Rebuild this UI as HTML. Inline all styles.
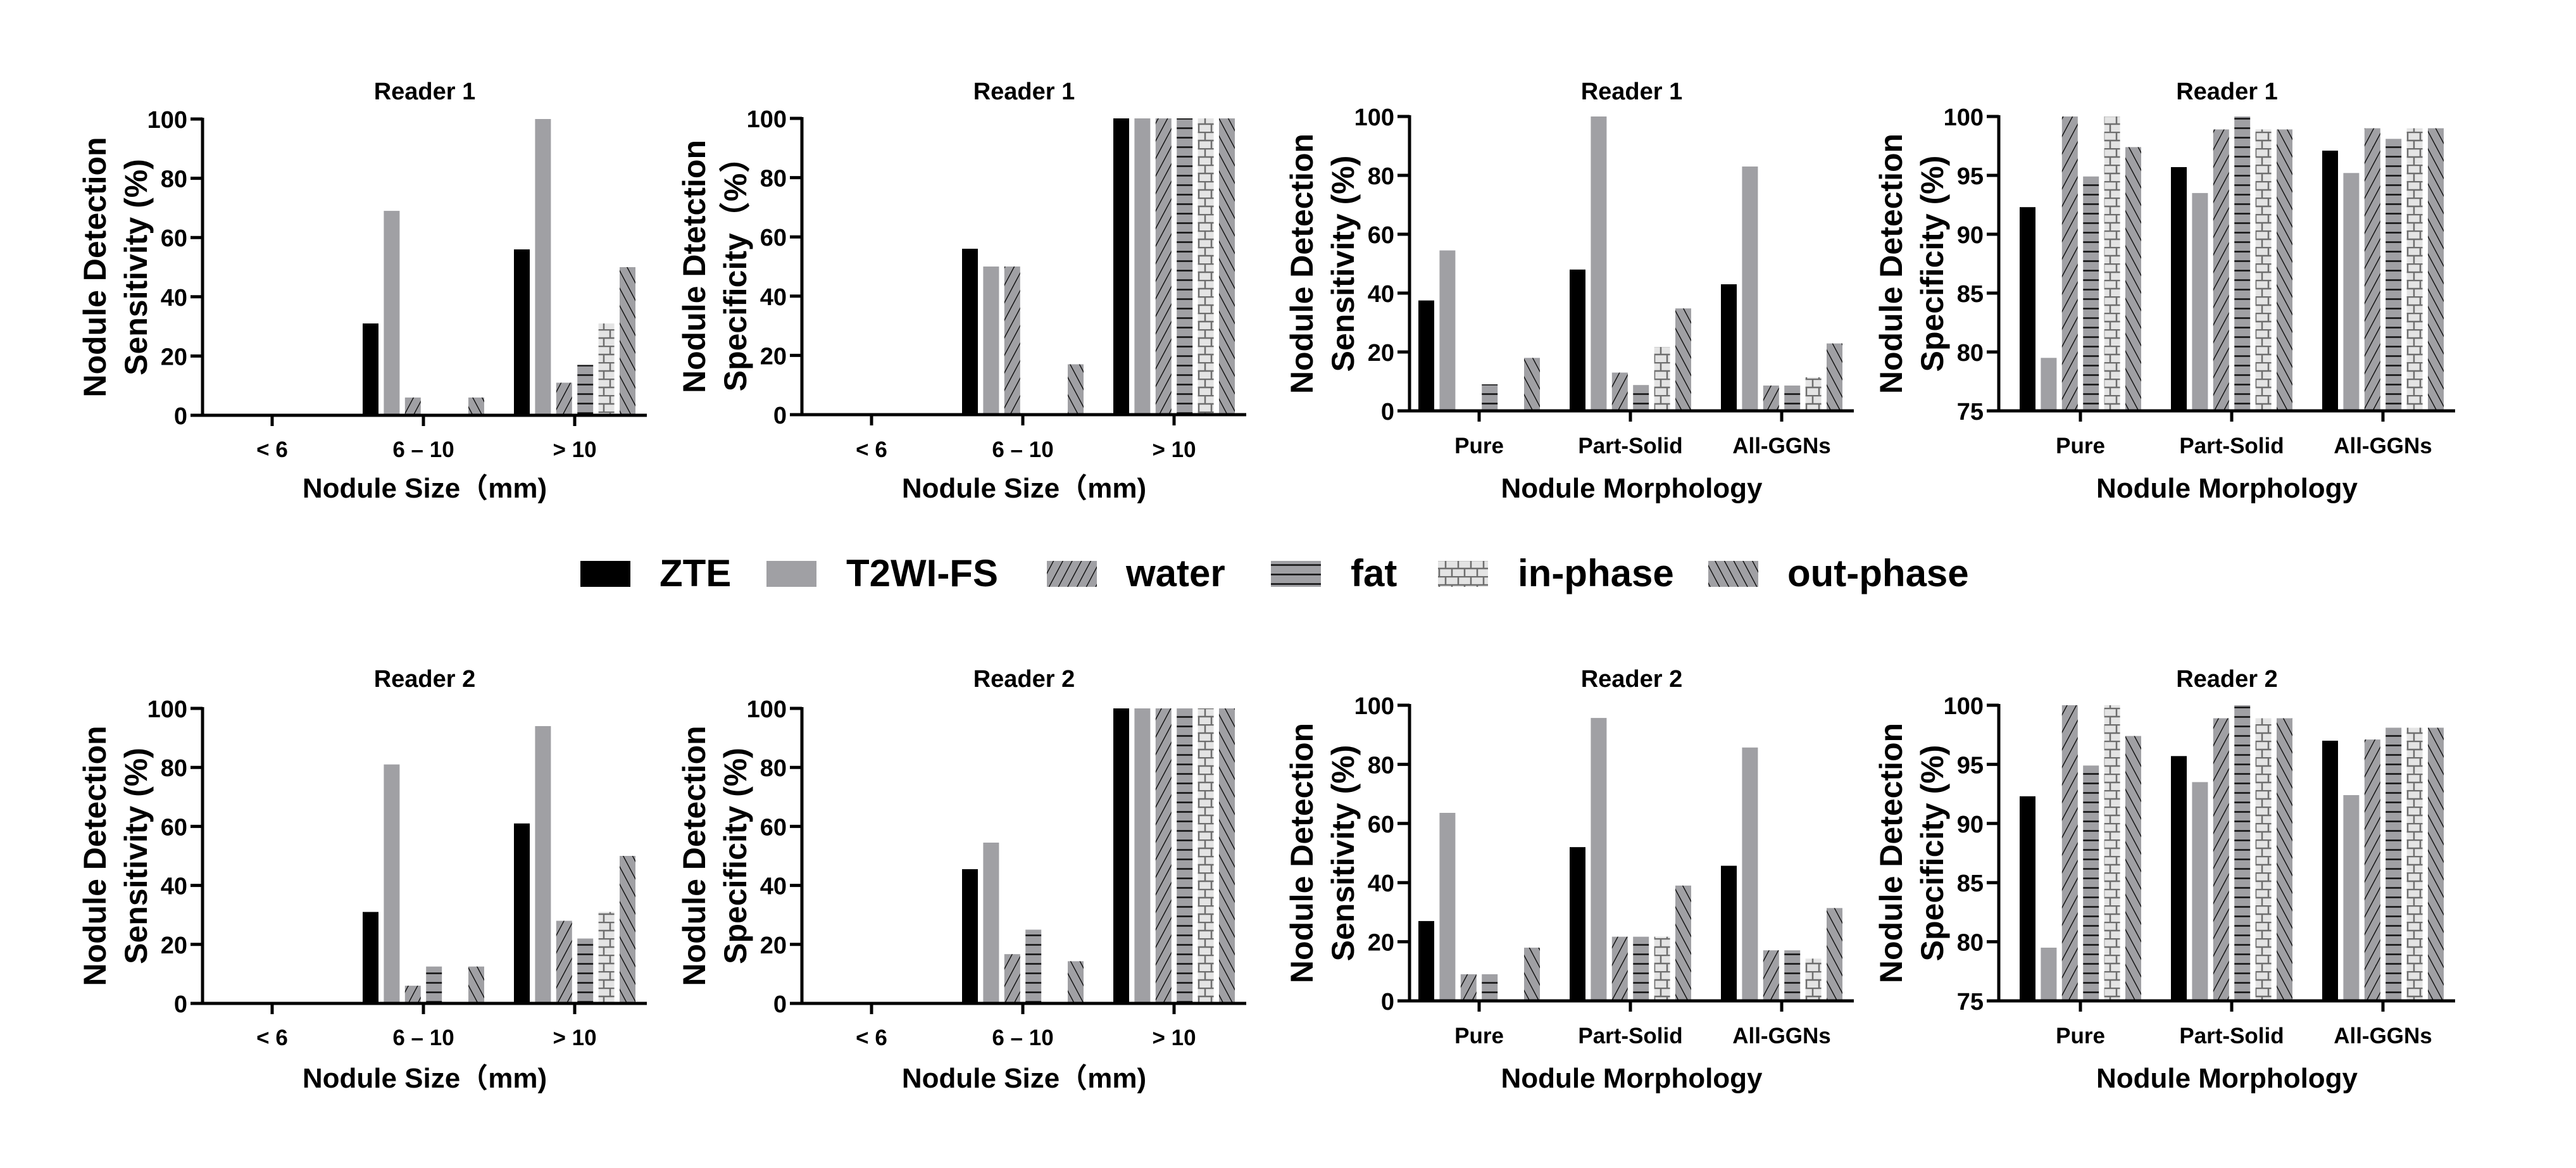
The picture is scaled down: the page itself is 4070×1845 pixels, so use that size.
<!DOCTYPE html>
<html><head><meta charset="utf-8"><style>
html,body{margin:0;padding:0;background:#fff;}
svg{display:block;}
text{font-family:"Liberation Sans","Noto Sans CJK SC",sans-serif;font-weight:bold;fill:#000;}
</style></head><body>
<svg id="fig" xmlns="http://www.w3.org/2000/svg" width="4070" height="1845" viewBox="0 0 4070 1845">
<defs>
<pattern id="p-water" patternUnits="userSpaceOnUse" width="13" height="13" patternTransform="rotate(28)">
<rect width="13" height="13" fill="#a0a0a4"/><line x1="0" y1="0" x2="0" y2="13" stroke="#000" stroke-width="2.6"/></pattern>
<pattern id="p-out" patternUnits="userSpaceOnUse" width="13" height="13" patternTransform="rotate(-28)">
<rect width="13" height="13" fill="#a0a0a4"/><line x1="0" y1="0" x2="0" y2="13" stroke="#000" stroke-width="2.6"/></pattern>
<pattern id="p-fat" patternUnits="userSpaceOnUse" width="20" height="15">
<rect width="20" height="15" fill="#a0a0a4"/><line x1="0" y1="7.5" x2="20" y2="7.5" stroke="#111" stroke-width="2.6"/></pattern>
<pattern id="p-in" patternUnits="userSpaceOnUse" width="20" height="26">
<rect width="20" height="26" fill="#e4e4e4"/>
<line x1="0" y1="1" x2="20" y2="1" stroke="#6e6e6e" stroke-width="2.5"/>
<line x1="0" y1="14" x2="20" y2="14" stroke="#6e6e6e" stroke-width="2.5"/>
<line x1="4" y1="1" x2="4" y2="14" stroke="#6e6e6e" stroke-width="2.5"/>
<line x1="14" y1="14" x2="14" y2="26" stroke="#6e6e6e" stroke-width="2.5"/>
</pattern>
</defs>
<g id="legend"></g>
</svg>
<script>
const series = ["ZTE","T2WI-FS","water","fat","in-phase","out-phase"];
const fills = ["#000","#a0a0a4","url(#p-water)","url(#p-fat)","url(#p-in)","url(#p-out)"];
const sizeCats = ["< 6","6 – 10","> 10"];
const morphCats = ["Pure","Part-Solid","All-GGNs"];
const ticks100 = [0,20,40,60,80,100];
const ticks75 = [75,80,85,90,95,100];
// values [category][series]
const r1SensSize = [[0,0,0,0,0,0],[31,69,6,0,0,6],[56,100,11,17,31,50]];
const r1SpecSize = [[0,0,0,0,0,0],[56,50,50,0,0,17],[100,100,100,100,100,100]];
const r1SensMorph = [[37.5,54.5,0,9,0,18],[48,100,13,8.7,21.7,34.8],[43,83,8.6,8.6,11.4,22.9]];
const r1SpecMorph = [[92.3,79.5,100,94.9,100,97.4],[95.7,93.5,98.9,100,98.9,98.9],[97.1,95.2,99.0,98.1,99.0,99.0]];
const r2SensSize = [[0,0,0,0,0,0],[31,81,6,12.5,0,12.5],[61,94,28,22,31,50]];
const r2SpecSize = [[0,0,0,0,0,0],[45.5,54.5,16.7,25,0,14.3],[100,100,100,100,100,100]];
const r2SensMorph = [[27,63.6,9,9,0,18],[52,95.7,21.7,21.7,21.7,39],[45.7,85.7,17.1,17.1,14.3,31.4]];
const r2SpecMorph = [[92.3,79.5,100,94.9,100,97.4],[95.7,93.5,98.9,100,98.9,98.9],[97.0,92.4,97.1,98.1,98.1,98.1]];

const NS="http://www.w3.org/2000/svg";
const svg=document.getElementById('fig');
function el(tag,attrs,parent){const e=document.createElementNS(NS,tag);for(const k in attrs)e.setAttribute(k,attrs[k]);(parent||svg).appendChild(e);return e;}

const panels=[
 {name:"r1-sens-size",title:"Reader 1",y1:"Nodule Detection",y2:"Sensitivity (%)",xt:"Nodule Size（mm)",cats:sizeCats,data:r1SensSize,ticks:ticks100,ax:320,first:110,len:702,top:188,bot:656,titleY:157,tickY:722,xtY:786},
 {name:"r1-spec-size",title:"Reader 1",y1:"Nodule Dtetction",y2:"Specificity（%）",xt:"Nodule Size（mm)",cats:sizeCats,data:r1SpecSize,ticks:ticks100,ax:1267,first:110,len:702,top:187,bot:655,titleY:157,tickY:722,xtY:786},
 {name:"r1-sens-morph",title:"Reader 1",y1:"Nodule Detection",y2:"Sensitivity (%)",xt:"Nodule Morphology",cats:morphCats,data:r1SensMorph,ticks:ticks100,ax:2227,first:110,len:702,top:184,bot:649,titleY:157,tickY:716,xtY:786},
 {name:"r1-spec-morph",title:"Reader 1",y1:"Nodule Detection",y2:"Specificity (%)",xt:"Nodule Morphology",cats:morphCats,data:r1SpecMorph,ticks:ticks75,ax:3158,first:129,len:721,top:184,bot:649,titleY:157,tickY:716,xtY:786},
 {name:"r2-sens-size",title:"Reader 2",y1:"Nodule Detection",y2:"Sensitivity (%)",xt:"Nodule Size（mm)",cats:sizeCats,data:r2SensSize,ticks:ticks100,ax:320,first:110,len:702,top:1119,bot:1585,titleY:1085,tickY:1651,xtY:1718},
 {name:"r2-spec-size",title:"Reader 2",y1:"Nodule Detection",y2:"Specificity (%)",xt:"Nodule Size（mm)",cats:sizeCats,data:r2SpecSize,ticks:ticks100,ax:1267,first:110,len:702,top:1119,bot:1585,titleY:1085,tickY:1651,xtY:1718},
 {name:"r2-sens-morph",title:"Reader 2",y1:"Nodule Detection",y2:"Sensitivity (%)",xt:"Nodule Morphology",cats:morphCats,data:r2SensMorph,ticks:ticks100,ax:2227,first:110,len:702,top:1114,bot:1581,titleY:1085,tickY:1648,xtY:1718},
 {name:"r2-spec-morph",title:"Reader 2",y1:"Nodule Detection",y2:"Specificity (%)",xt:"Nodule Morphology",cats:morphCats,data:r2SpecMorph,ticks:ticks75,ax:3158,first:129,len:721,top:1114,bot:1581,titleY:1085,tickY:1648,xtY:1718}
];
const SP=239;
panels.forEach(p=>{
  const g=el('g',{});
  
  
  const vmin=p.ticks[0], vmax=p.ticks[p.ticks.length-1];
  const y=v=>p.bot-(v-vmin)/(vmax-vmin)*(p.bot-p.top);
  const xc=i=>p.ax+p.first+i*SP;
  const pitch=33.4, bw=25;
  p.data.forEach((row,i)=>{row.forEach((v,s)=>{
    if(v<=vmin) return;
    const x=xc(i)-2.5*pitch-bw/2+s*pitch;
    const r=el('rect',{x:x,y:y(v),width:bw,height:p.bot-y(v),fill:fills[s]},g);
    
    
  });});
  const ya=el('line',{x1:p.ax,y1:p.top-2,x2:p.ax,y2:p.bot+2,stroke:'#000','stroke-width':5},g);
  
  
  const xa=el('line',{x1:p.ax-2,y1:p.bot,x2:p.ax+p.len,y2:p.bot,stroke:'#000','stroke-width':5},g);
  
  
  p.ticks.forEach(t=>{
    el('line',{x1:p.ax-19,y1:y(t),x2:p.ax,y2:y(t),stroke:'#000','stroke-width':5},g);
    const tl=el('text',{x:p.ax-24,y:y(t)+14,'text-anchor':'end','font-size':38},g);
    tl.textContent=t;
    
    
  });
  p.cats.forEach((c,i)=>{
    el('line',{x1:xc(i),y1:p.bot,x2:xc(i),y2:p.bot+17,stroke:'#000','stroke-width':5},g);
    const tl=el('text',{x:xc(i),y:p.tickY,'text-anchor':'middle','font-size':35},g);
    tl.textContent=c;
    
    
  });
  const cx=p.ax+p.len/2;
  const t=el('text',{x:cx,y:p.titleY,'text-anchor':'middle','font-size':38},g);
  t.textContent=p.title;
  
  
  const xt=el('text',{x:cx,y:p.xtY,'text-anchor':'middle','font-size':44},g);
  xt.textContent=p.xt;
  
  
  const cy=(p.top+p.bot)/2;
  const y1=el('text',{x:0,y:0,'text-anchor':'middle','font-size':50,transform:`translate(${p.ax-153},${cy}) rotate(-90)`},g);
  y1.textContent=p.y1;
  
  
  const y2=el('text',{x:0,y:0,'text-anchor':'middle','font-size':50,transform:`translate(${p.ax-88},${cy}) rotate(-90)`},g);
  y2.textContent=p.y2;
  
  
});
const lg=document.getElementById('legend');
const legSq=[917,1211,1654,2008,2272,2699];
const legTx=[1042,1337,1779,2134,2398,2824];
series.forEach((s,i)=>{
  const g=el('g',{},lg);
  
  
  el('rect',{x:legSq[i],y:886,width:79,height:41,fill:fills[i]},g);
  const t=el('text',{x:legTx[i],y:926,'font-size':60},g);
  t.textContent=s;
});
</script>
</body></html>
